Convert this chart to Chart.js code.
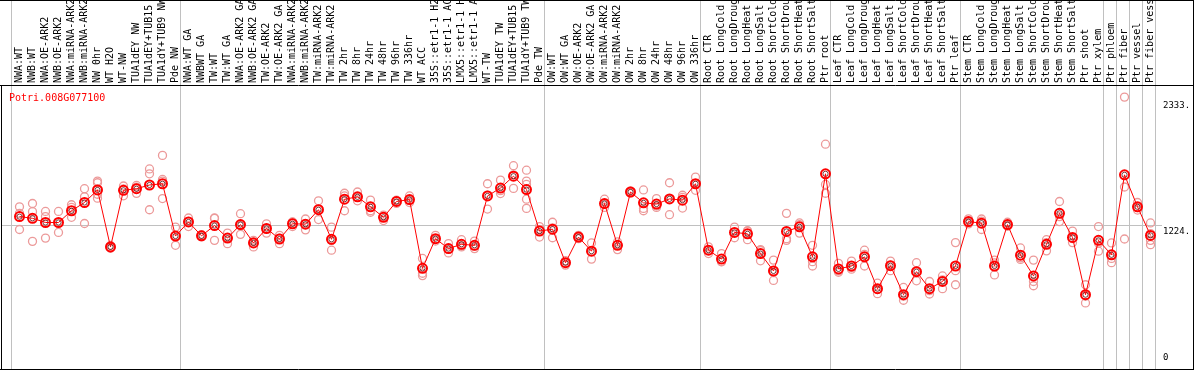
<!DOCTYPE html>
<html><head><meta charset="utf-8">
<script src="https://cdn.jsdelivr.net/npm/chart.js@4.4.1/dist/chart.umd.min.js"></script>
<style>html,body{margin:0;padding:0;background:#fff}#wrap{width:1194px;height:370px;position:relative}</style>
</head><body><div id="wrap"><canvas id="c" width="1194" height="370"></canvas></div>
<script>
const geneTitle = 'Potri.008G077100';
const categories = [
 'NWA:WT','NWB:WT','NWA:OE-ARK2','NWB:OE-ARK2','NWA:miRNA-ARK2','NWB:miRNA-ARK2','NW 0hr','WT H2O','WT-NW','TUA1dEY NW','TUA1dEY+TUB15','TUA1dY+TUB9 NW','Pde NW',
 'NWA:WT GA','NWBWT GA','TW:WT','TW:WT GA','NWA:OE-ARK2 GA','NWB:OE-ARK2 GA','TW:OE-ARK2','TW:OE-ARK2 GA','NWA:miRNA-ARK2','NWB:miRNA-ARK2','TW:miRNA-ARK2','TW:miRNA-ARK2',
 'TW 2hr','TW 8hr','TW 24hr','TW 48hr','TW 96hr','TW 336hr','WT ACC','35S::etr1-1 H2','35S::etr1-1 AC','LMX5::etr1-1 H','LMX5::etr1-1 A','WT-TW','TUA1dEY TW','TUA1dEY+TUB15','TUA1dY+TUB9 TW','Pde TW',
 'OW:WT','OW:WT GA','OW:OE-ARK2','OW:OE-ARK2 GA','OW:miRNA-ARK2','OW:miRNA-ARK2','OW 2hr','OW 8hr','OW 24hr','OW 48hr','OW 96hr','OW 336hr',
 'Root CTR','Root LongCold','Root LongDroug','Root LongHeat','Root LongSalt','Root ShortCold','Root ShortDrou','Root ShortHeat','Root ShortSalt','Ptr root',
 'Leaf CTR','Leaf LongCold','Leaf LongDroug','Leaf LongHeat','Leaf LongSalt','Leaf ShortCold','Leaf ShortDrou','Leaf ShortHeat','Leaf ShortSalt','Ptr leaf',
 'Stem CTR','Stem LongCold','Stem LongDroug','Stem LongHeat','Stem LongSalt','Stem ShortCold','Stem ShortDrou','Stem ShortHeat','Stem ShortSalt','Ptr shoot',
 'Ptr xylem','Ptr phloem','Ptr fiber','Ptr vessel','Ptr fiber vess'
];
const means = [
 1300,1285,1248,1248,1352,1425,1536,1032,1533,1547,1580,1591,1128,
 1253,1130,1221,1110,1230,1067,1195,1102,1237,1233,1361,1099,
 1454,1475,1387,1294,1434,1451,842,1105,1017,1055,1046,1483,1553,1658,1539,1172,
 1189,892,1119,994,1416,1046,1518,1422,1411,1457,1446,1591,
 1003,924,1160,1148,973,819,1169,1210,944,1679,
 837,863,944,662,866,609,813,662,726,863,
 1256,1242,863,1230,959,775,1055,1329,1116,609,
 1090,962,1670,1387,1134
];
const replicates = [
 [1387,1186,1329],[1416,1344,1081],[1346,1300,1110],[1346,1160,1248],[1405,1294,1381],[1547,1475,1239],[1615,1600,1498,1463],[1045,1030,1020],[1571,1484,1545],[1576,1506,1560],[1722,1679,1361],[1842,1629,1615,1460],[1207,1046,1130],
 [1288,1212,1258],[1120,1135,1140],[1288,1090,1285],[1154,1061,1115],[1326,1143,1222],[1090,1032,1078],[1236,1154,1195],[1134,1061,1110],[1253,1212,1250],[1279,1183,1236],[1440,1274,1370],[1207,1003,1090],
 [1507,1483,1352],[1518,1440,1470],[1446,1352,1338],[1314,1265,1300],[1440,1417,1445],[1483,1425,1445],[930,799,778],[1134,1084,1100],[1061,979,1010],[1096,1032,1040],[1084,1017,1040],[1591,1367,1490],[1623,1504,1530],[1751,1550,1670],[1711,1615,1585,1454,1373],[1212,1119,1185],
 [1250,1113,1200],[871,895,910],[1134,1105,1118],[1067,924,990],[1454,1381,1410],[1076,1008,1050],[1527,1510,1518],[1536,1373,1352],[1460,1381,1395],[1600,1317,1455],[1489,1376,1470],[1650,1533,1590],
 [1032,973,1005],[973,901,900],[1207,1113,1160],[1172,1096,1175],[1008,909,1000],[915,735,805],[1329,1105,1090],[1244,1154,1230],[1046,901,863],[1941,1585,1507],
 [886,807,820],[906,850,835],[1003,863,965],[711,618,655],[906,822,870],[673,560,595],[892,732,815],[726,615,645],[775,662,740],[1070,822,697],
 [1236,1250,1280],[1279,1186,1260],[915,784,890],[1250,1215,1225],[1023,921,935],[915,726,688],[1096,997,1070],[1434,1256,1300],[1172,1070,1105],[697,536,595],
 [1212,994,1065],[1067,930,892],[2358,1562,1102],[1425,1358,1380],[1244,1090,1052,1150]
];
const yTickValues = [0, 1224, 2333];
const yTickLabels = ['0', '1224.', '2333.'];
const yMax = 2465;
// category index before which a vertical separator is drawn (88 = after the last one)
const separatorsBefore = [0, 13, 41, 53, 63, 73, 84, 85, 86, 87, 88];

const repPoints = [];
replicates.forEach((arr, i) => arr.forEach(v => repPoints.push({x: i, y: v})));

const framePlugin = {
  id: 'frame',
  beforeDatasetsDraw(chart) {
    const {ctx, scales: {x, y}} = chart;
    ctx.save();
    ctx.strokeStyle = '#c0c0c0';
    ctx.lineWidth = 1;
    separatorsBefore.forEach(i => {
      const px = Math.floor(x.getPixelForValue(i) - 8.3) + 0.5;
      ctx.beginPath(); ctx.moveTo(px, 0); ctx.lineTo(px, 369); ctx.stroke();
    });
    const py = Math.round(y.getPixelForValue(1224)) + 0.5;
    ctx.beginPath(); ctx.moveTo(2, py); ctx.lineTo(1162, py); ctx.stroke();
    ctx.restore();
  },
  afterDraw(chart) {
    const {ctx, scales: {y}} = chart;
    ctx.save();
    ctx.strokeStyle = '#000';
    ctx.lineWidth = 1;
    const line = (x1, y1, x2, y2) => { ctx.beginPath(); ctx.moveTo(x1, y1); ctx.lineTo(x2, y2); ctx.stroke(); };
    line(0, 0.5, 1194, 0.5);
    line(0, 85.5, 1194, 85.5);
    line(0, 369.5, 1194, 369.5);
    line(1.5, 85, 1.5, 370);
    line(1193.5, 0, 1193.5, 370);
    ctx.font = '10px "DejaVu Sans Mono"';
    ctx.fillStyle = '#ff0000';
    ctx.textBaseline = 'alphabetic';
    ctx.textAlign = 'left';
    ctx.fillText(geneTitle, 9, 101);
    ctx.fillStyle = '#000';
    ctx.font = '9px "DejaVu Sans Mono"';
    ctx.textBaseline = 'middle';
    yTickValues.forEach((v, i) => {
      const p = y.getPixelForValue(v);
      const cy = (p + 6 > chart.chartArea.bottom) ? p - 6 : p + 6;
      ctx.fillText(yTickLabels[i], 1163, cy);
    });
    ctx.restore();
  }
};

new Chart(document.getElementById('c'), {
  type: 'line',
  data: {
    labels: categories,
    datasets: [
      { label: 'mean', data: means, borderColor: '#ff0000', borderWidth: 1, tension: 0,
        pointRadius: 4.5, pointBorderWidth: 2, pointBorderColor: '#ff0000', pointBackgroundColor: 'rgba(0,0,0,0)', order: 0 },
      { label: 'mean core', data: means, showLine: false,
        pointRadius: 2.6, pointBorderWidth: 1, pointBorderColor: 'rgba(70,0,0,0.75)', pointBackgroundColor: 'rgba(0,0,0,0)', order: 0 },
      { type: 'scatter', label: 'replicates', data: repPoints, parsing: false, showLine: false,
        pointRadius: 4, pointBorderWidth: 1.3, pointBorderColor: '#ec9a9a', pointBackgroundColor: 'rgba(0,0,0,0)', order: 1 }
    ]
  },
  options: {
    responsive: false, animation: false, devicePixelRatio: 1,
    layout: {padding: {left: 13, right: 37, top: 0, bottom: 2}},
    plugins: {legend: {display: false}, tooltip: {enabled: false}, title: {display: false}},
    scales: {
      x: {
        type: 'category', position: 'top', offset: true,
        grid: {display: false, drawTicks: false}, border: {display: false},
        ticks: {autoSkip: false, maxRotation: 90, minRotation: 90, padding: 2, labelOffset: 12, color: '#000',
                font: {family: 'DejaVu Sans Mono', size: 10}},
        afterFit(s) { s.height = 85; }
      },
      y: {display: false, min: 0, max: yMax}
    }
  },
  plugins: [framePlugin]
});
</script>
</body></html>
